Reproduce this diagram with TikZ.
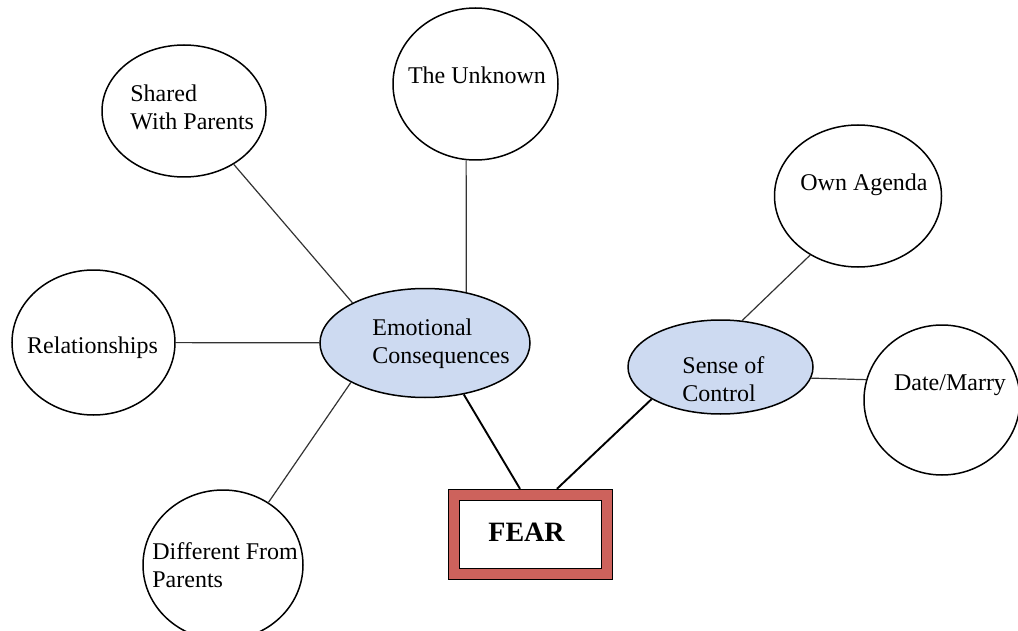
\documentclass[tikz,border=0pt]{standalone}
\usepackage{fontspec}
\setmainfont{Liberation Serif}
\usetikzlibrary{shapes.geometric}
\definecolor{corefill}{HTML}{CDDAF1}
\definecolor{fearred}{HTML}{CD625C}
\begin{document}
\begin{tikzpicture}[x=0.5pt, y=-0.5pt,
    bubble/.style={draw, ellipse, fill=white, line width=0.75pt, inner sep=0pt},
    core/.style={draw, ellipse, fill=corefill, line width=0.75pt, inner sep=0pt},
    txt/.style={align=left, inner sep=0pt, font=\fontsize{12}{14}\selectfont},
    link/.style={line width=0.6pt, black!80},
    mainlink/.style={line width=0.95pt}]
\useasboundingbox (0,0) rectangle (1018,631);
\clip (0,0) rectangle (1018,631);
% outer bubbles
\node[bubble, minimum width=82pt, minimum height=66pt] (shared) at (184,111) {};
\node[bubble, minimum width=82.5pt, minimum height=76pt] (unknown) at (475.5,84) {};
\node[bubble, minimum width=83.5pt, minimum height=71pt] (agenda) at (858,196) {};
\node[bubble, minimum width=81.5pt, minimum height=72.5pt] (rel) at (93.5,342.5) {};
\node[bubble, minimum width=78pt, minimum height=75pt] (date) at (942,400) {};
\node[bubble, minimum width=80pt, minimum height=75pt] (diff) at (223,565) {};
% middle ring
\node[core, minimum width=105pt, minimum height=54.5pt] (emo) at (425,343) {};
\node[core, minimum width=92.5pt, minimum height=47pt] (sense) at (720.5,367) {};
\node[draw, fill=white, line width=0.6pt, double=fearred, double distance=5pt,
      outer sep=3.1pt, minimum width=76.5pt, minimum height=39.5pt] (fear) at (530.5,534.5) {};
% texts
\node[txt, anchor=west] (shared-t) at (130,107.5) {Shared\\With Parents};
\node[txt] (unknown-t) at (477,75) {The Unknown};
\node[txt] (agenda-t) at (864,185) {Own Agenda};
\node[txt] (rel-t) at (92.5,348) {Relationships};
\node[txt] (date-t) at (950,385) {Date/Marry};
\node[txt, anchor=west] (diff-t) at (152,565) {Different From\\Parents};
\node[txt, anchor=west] (emo-t) at (372,343.5) {Emotional\\Consequences};
\node[txt, anchor=west] (sense-t) at (682,379) {Sense of\\Control};
\node[txt, font=\fontsize{14}{16}\selectfont\bfseries] (fear-t) at (526.5,532) {FEAR};
% links
\draw[link] (shared.-47) -- (emo.151.5);
\draw[link] (unknown.263.6) -- (emo.51.6);
\draw[link] (rel) -- (emo);
\draw[link] (diff.54) -- (emo.208.5);
\draw[mainlink] (emo.-53.3) -- ([xshift=-5.25pt]fear.north);
\draw[mainlink] ([xshift=13.25pt]fear.north) -- (sense.205);
\draw[link] (sense.65) -- (agenda.231);
\draw[link] (sense.-7) -- (date.165.5);
\end{tikzpicture}
\end{document}
